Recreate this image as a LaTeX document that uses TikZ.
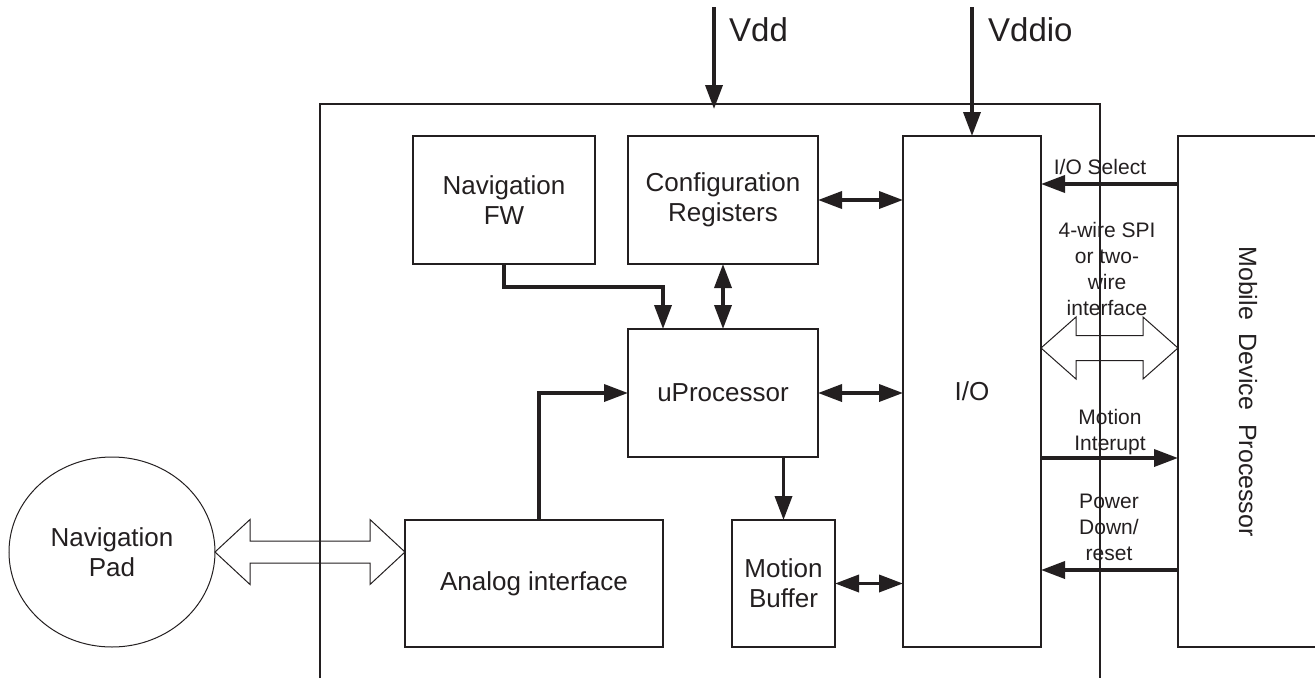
\documentclass[tikz,border=0pt]{standalone}
\usepackage{fontspec}
\setmainfont{Liberation Sans}
\usepackage{graphicx}
\usetikzlibrary{positioning,calc,arrows.meta,shapes.geometric}
\definecolor{chipink}{RGB}{35,31,32}

\begin{document}
\begin{tikzpicture}[
    x=1pt, y=-1pt,
    line join=miter,
    box/.style={rectangle, draw=chipink, line width=1.1pt, inner sep=0pt, outer sep=0pt,
                align=center, text=chipink, font=\fontsize{26}{30}\selectfont},
    padshape/.style={ellipse, draw=chipink, line width=1.0pt, inner sep=0pt, outer sep=0pt,
                align=center, text=chipink, font=\fontsize{26}{30}\selectfont},
    bus/.style={chipink, line width=3.6pt, -{Triangle[length=24pt,width=17pt]}},      % one-way signal
    dbus/.style={chipink, line width=3.6pt,
                {Triangle[length=24pt,width=17pt]}-{Triangle[length=24pt,width=17pt]}}, % two-way signal
    hollow/.style={draw=chipink, line width=1.0pt},
    lbl/.style={text=chipink, font=\fontsize{21}{26}\selectfont, align=center, inner sep=0pt},
    pwr/.style={text=chipink, font=\fontsize{33}{38}\selectfont, anchor=west, inner sep=0pt},
  ]

  \useasboundingbox (0,0) rectangle (1315,678);
  \clip (0,0) rectangle (1315,678);

  % ---- chip outline (open at the bottom) ----
  \coordinate (chipsw) at ( 320,678);
  \coordinate (chipnw) at ( 320,104);
  \coordinate (chipne) at (1100,104);
  \coordinate (chipse) at (1100,678);
  \draw[chipink, line width=1.1pt] (chipsw) -- (chipnw) -- (chipne) -- (chipse);

  % ---- blocks ----------------------------------------------
  \node[box, minimum width=182pt, minimum height=128pt] (navfw)  at ( 504,200)   {Navigation\\FW};
  \node[box, minimum width=190pt, minimum height=128pt] (config) at ( 723,200)   {Configuration\\Registers};
  \node[box, minimum width=190pt, minimum height=128pt] (uproc)  at ( 723,393)   {uProcessor};
  \node[box, minimum width=138pt, minimum height=511pt] (io)     at ( 972,391.5) {I/O};
  \node[box, minimum width=258pt, minimum height=127pt] (analog) at ( 534,583.5) {Analog interface};
  \node[box, minimum width=103pt, minimum height=127pt] (mbuf)   at (783.5,583.5) {Motion\\Buffer};
  \node[box, minimum width=140pt, minimum height=511pt,
        font=\fontsize{25}{30}\selectfont]                  (mdp)    at (1248,391.5)
        {\rotatebox{-90}{Mobile\ \ Device\ \ Processor}};
  \node[padshape, minimum width=206pt, minimum height=190pt] (pad) at (112,552) {Navigation\\Pad};

  % ---- supplies ---------------------------------------------
  \coordinate (vddsrc)   at (714,  7);
  \coordinate (vddend)   at (714,109);
  \coordinate (vddiosrc) at (972,  7);
  \draw[bus] (vddsrc) -- (vddend);
  \draw[bus] (vddiosrc) -- (io.north);
  \node[pwr] (vddlbl)   at (729,30) {Vdd};
  \node[pwr] (vddiolbl) at (988,30) {Vddio};

  % ---- internal links ---------------------------------------
  \draw[bus]  (navfw.south) -- ++(0,23) -| ([xshift=-60pt]uproc.north);
  \draw[dbus] (config.south) -- (uproc.north);
  \draw[dbus] (config.east) -- (config.east -| io.west);
  \draw[dbus] (uproc.east) -- (uproc.east -| io.west);
  \draw[bus]  ([xshift=5pt]analog.north) |- (uproc.west);
  \draw[bus]  (mbuf.north |- uproc.south) -- (mbuf.north);
  \draw[dbus] (mbuf.east) -- (mbuf.east -| io.west);

  % ---- host side signals ------------------------------------
  \coordinate (selrow) at (0,184);
  \coordinate (spirow) at (0,348);
  \coordinate (introw) at (0,458);
  \coordinate (pwdrow) at (0,570);
  \draw[bus] (mdp.west |- selrow) -- (io.east |- selrow);
  \draw[bus] (io.east |- introw) -- (mdp.west |- introw);
  \draw[bus] (mdp.west |- pwdrow) -- (io.east |- pwdrow);

  % ---- hollow bus arrows ------------------------------------
  \draw[hollow] (pad.east) -- ++(35,-32.5) -- ++(0,21.5)
    -- ($(analog.west |- pad.east)+(-35,-11)$) -- ++(0,-21.5) -- (analog.west |- pad.east)
    -- ++(-35,32.5) -- ++(0,-21.5) -- ($(pad.east)+(35,11)$) -- ++(0,21.5) -- cycle;
  \draw[hollow] (io.east |- spirow) -- ++(35,-31) -- ++(0,18.5)
    -- ($(mdp.west |- spirow)+(-35,-12.5)$) -- ++(0,-18.5) -- (mdp.west |- spirow)
    -- ++(-35,31) -- ++(0,-18.5) -- ($(io.east |- spirow)+(35,12.5)$) -- ++(0,18.5) -- cycle;

  % ---- signal labels ----------------------------------------
  \node[lbl] (sellbl) at (1100,167) {I/O Select};
  \node[lbl] (spilbl) at (1107,269) {4-wire SPI\\or two-\\wire\\interface};
  \node[lbl] (intlbl) at (1110,432) {Motion\\Interupt};
  \node[lbl] (pwdlbl) at (1109,527) {Power\\Down/\\reset};

\end{tikzpicture}
\end{document}
